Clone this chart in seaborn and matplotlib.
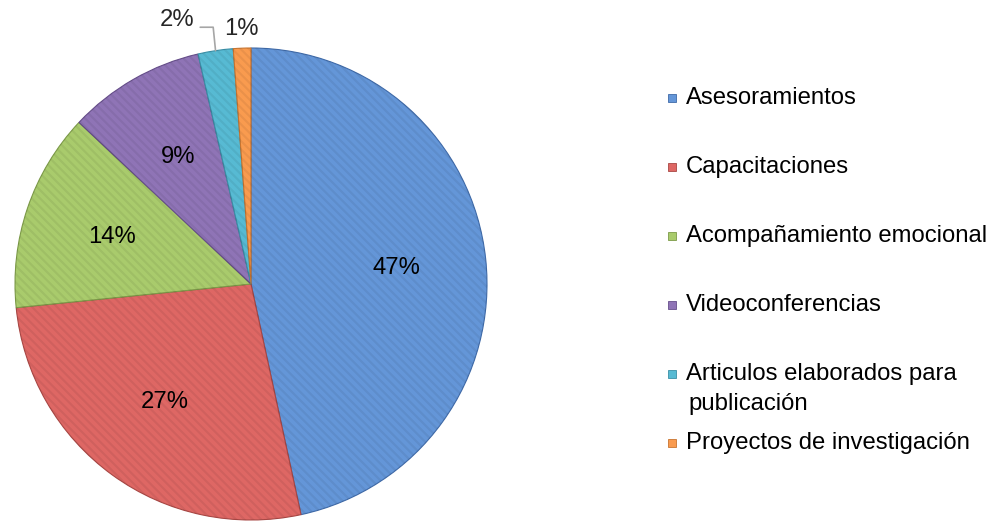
import numpy as np
import matplotlib
matplotlib.use("Agg")
import matplotlib.pyplot as plt
import seaborn as sns
from matplotlib.patches import Rectangle

# ---- data ----
categories = ["Asesoramientos", "Capacitaciones", "Acompañamiento emocional",
              "Videoconferencias", "Articulos elaborados para\npublicación",
              "Proyectos de investigación"]
values = [46.6, 26.8, 13.6, 9.4, 2.4, 1.2]
colors = ["#6496D8", "#DE6764", "#A9CB6C", "#8F74B6", "#57BAD3", "#F99B4F"]
edge_colors = ["#3F6AA8", "#A84744", "#7C9A48", "#664E8A", "#3A8FA6", "#C8742F"]

sns.set_theme(style="white")
plt.rcParams["font.family"] = ["Liberation Sans", "DejaVu Sans"]
plt.rcParams["hatch.linewidth"] = 1.6

W, H = 992, 524
fig = plt.figure(figsize=(W / 100, H / 100), dpi=100)
cx, cy, R = 251, 284, 236
ax = fig.add_axes([(cx - R) / W, (H - cy - R) / H, 2 * R / W, 2 * R / H])

total = sum(values)


def fmt(p):
    return f"{p:.0f}%" if p >= 5 else ""


wedges, texts, autotexts = ax.pie(
    values, colors=colors, startangle=90, counterclock=False, radius=1,
    autopct=fmt, pctdistance=0.62,
    wedgeprops=dict(linewidth=0.8, edgecolor="#555555"),
    textprops=dict(fontsize=17.2, color="black"),
)
for w, ec in zip(wedges, edge_colors):
    w.set_edgecolor(ec)

# subtle diagonal stripe texture
over, _ = ax.pie(values, startangle=90, counterclock=False, radius=1,
                 colors=["none"] * len(values),
                 wedgeprops=dict(linewidth=0, edgecolor=(0, 0, 0, 0.06),
                                 hatch="\\\\\\\\"))
for w in over:
    w.set_facecolor("none")

ax.set_xlim(-1, 1)
ax.set_ylim(-1, 1)
ax.set_aspect("equal")
ax.axis("off")

# small-slice labels outside
def mid_angle(w):
    return np.deg2rad((w.theta1 + w.theta2) / 2)

a = mid_angle(wedges[5])
ax.text(1.08 * np.cos(a), 1.08 * np.sin(a), f"{values[5] / total * 100:.0f}%",
        ha="center", va="center", fontsize=17.2)

a = mid_angle(wedges[4])
x0, y0 = np.cos(a), np.sin(a)
ax.plot([x0, x0 - 0.01, x0 - 0.065], [y0, 1.088, 1.088], color="#A6A6A6",
        lw=1.2, clip_on=False)
ax.text(x0 - 0.09, 1.12, f"{values[4] / total * 100:.0f}%",
        ha="right", va="center", fontsize=17.2)

# legend (manual, Excel style)
lx_sq, lx_txt = 668, 686
y_first = 98
step = 69
for i, (lab, col, ec) in enumerate(zip(categories, colors, edge_colors)):
    yc = y_first + step * i
    fig.patches.append(Rectangle((lx_sq / W, 1 - (yc + 4) / H), 8 / W, 8 / H,
                                 transform=fig.transFigure, facecolor=col,
                                 edgecolor=ec, linewidth=0.6))
    lines = lab.split("\n")
    for j, ln in enumerate(lines):
        x = lx_txt if j == 0 else lx_txt + 2
        fig.text(x / W, 1 - (yc + 30 * j) / H, ln, ha="left", va="center",
                 fontsize=17.2, color="black")

fig.savefig("out.png", dpi=100, facecolor="white")
